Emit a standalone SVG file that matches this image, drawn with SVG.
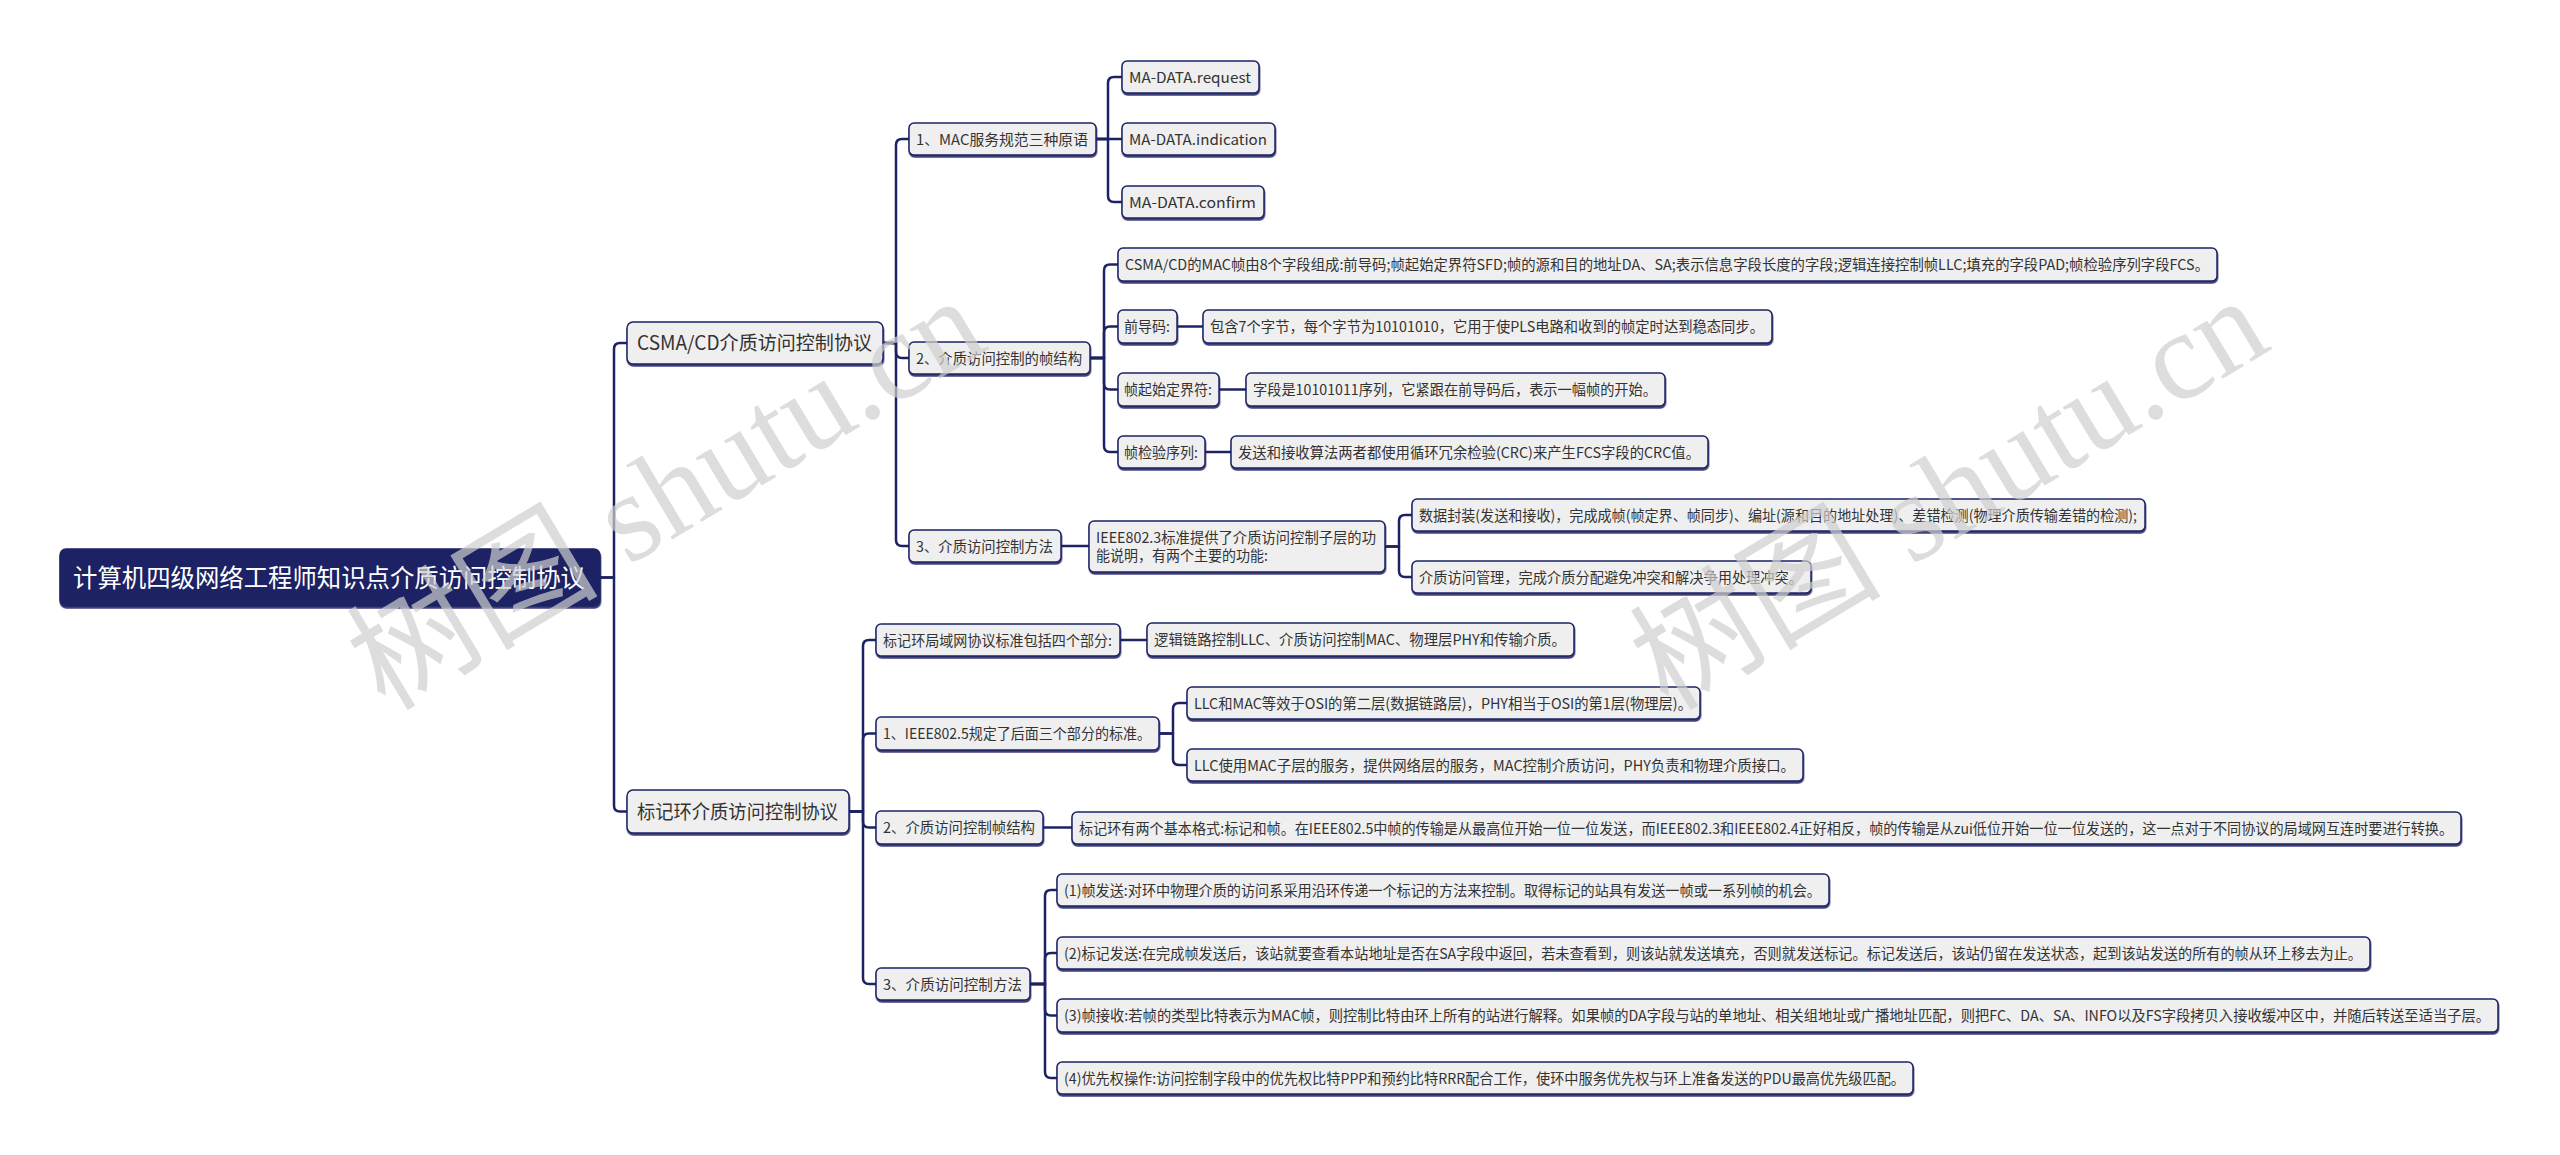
<svg xmlns="http://www.w3.org/2000/svg" width="2560" height="1155" viewBox="0 0 2560 1155">
<defs>
<filter id="sh" x="-5%" y="-20%" width="110%" height="160%">
<feDropShadow dx="0.5" dy="2" stdDeviation="0.6" flood-color="#1c2363" flood-opacity="0.85"/>
</filter>
</defs>
<style>
.n rect{fill:#efeff0;stroke:#1c2363;stroke-width:1.5;filter:url(#sh)}
.n text{font-family:"Noto Sans CJK SC","Noto Sans",sans-serif;font-size:14.5px;fill:#333333}
.l1 text{font-size:19.5px}
.root rect{fill:#1c2363;stroke:#1c2363}
.root text{font-size:25px;fill:#ffffff}
#connectors path{fill:none;stroke:#1c2363;stroke-width:2.5;stroke-linejoin:round}
.wm{font-family:"Liberation Serif","Noto Sans CJK SC",serif;font-size:126px;fill:#cfcfcf;opacity:0.7}
</style>
<rect width="2560" height="1155" fill="#ffffff"/>
<g id="connectors">
<path d="M600,577.5 H614 V349 Q614,343 620,343 H627"/>
<path d="M600,577.5 H614 V805.5 Q614,811.5 620,811.5 H627"/>
<path d="M883,343 H896 V145 Q896,139 902,139 H909"/>
<path d="M883,343 H896 V352 Q896,358 902,358 H909"/>
<path d="M883,343 H896 V540 Q896,546 902,546 H909"/>
<path d="M1096,139 H1108 V83 Q1108,77 1114,77 H1122"/>
<path d="M1096,139 H1122"/>
<path d="M1096,139 H1108 V196 Q1108,202 1114,202 H1122"/>
<path d="M1090,358 H1104 V270.5 Q1104,264.5 1110,264.5 H1118"/>
<path d="M1090,358 H1104 V332.5 Q1104,326.5 1110,326.5 H1118"/>
<path d="M1090,358 H1104 V383.5 Q1104,389.5 1110,389.5 H1118"/>
<path d="M1090,358 H1104 V446 Q1104,452 1110,452 H1118"/>
<path d="M1177,326.5 H1203"/>
<path d="M1219,389.5 H1246"/>
<path d="M1205,452 H1231"/>
<path d="M1061,546 H1089"/>
<path d="M1385,546.5 H1399 V521 Q1399,515 1405,515 H1412"/>
<path d="M1385,546.5 H1399 V571 Q1399,577 1405,577 H1412"/>
<path d="M849,811.5 H863 V646 Q863,640 869,640 H876"/>
<path d="M849,811.5 H863 V739.5 Q863,733.5 869,733.5 H876"/>
<path d="M849,811.5 H863 V821.5 Q863,827.5 869,827.5 H876"/>
<path d="M849,811.5 H863 V978 Q863,984 869,984 H876"/>
<path d="M1120,640 H1147"/>
<path d="M1159,733.5 H1173 V709 Q1173,703 1179,703 H1187"/>
<path d="M1159,733.5 H1173 V759 Q1173,765 1179,765 H1187"/>
<path d="M1043,827.5 H1072"/>
<path d="M1030,984 H1045 V896 Q1045,890 1051,890 H1057"/>
<path d="M1030,984 H1045 V959 Q1045,953 1051,953 H1057"/>
<path d="M1030,984 H1045 V1009.5 Q1045,1015.5 1051,1015.5 H1057"/>
<path d="M1030,984 H1045 V1072 Q1045,1078 1051,1078 H1057"/>
</g>
<g id="root" class="n root"><rect x="60" y="549" width="540" height="57" rx="6"/><text x="73" y="586.5" textLength="512" lengthAdjust="spacingAndGlyphs">计算机四级网络工程师知识点介质访问控制协议</text></g>
<g id="csma" class="n l1"><rect x="627" y="322" width="256" height="42" rx="6"/><text x="637" y="350" textLength="235" lengthAdjust="spacingAndGlyphs">CSMA/CD介质访问控制协议</text></g>
<g id="token" class="n l1"><rect x="627" y="790" width="222" height="43" rx="6"/><text x="637" y="818.5" textLength="201" lengthAdjust="spacingAndGlyphs">标记环介质访问控制协议</text></g>
<g id="a1" class="n"><rect x="909" y="123" width="187" height="32" rx="5"/><text x="916" y="144.5" textLength="172" lengthAdjust="spacingAndGlyphs">1、MAC服务规范三种原语</text></g>
<g id="a1-1" class="n"><rect x="1122" y="61" width="137" height="32" rx="5"/><text x="1129" y="82.5" textLength="122" lengthAdjust="spacingAndGlyphs">MA-DATA.request</text></g>
<g id="a1-2" class="n"><rect x="1122" y="123" width="153" height="32" rx="5"/><text x="1129" y="144.5" textLength="138" lengthAdjust="spacingAndGlyphs">MA-DATA.indication</text></g>
<g id="a1-3" class="n"><rect x="1122" y="186" width="142" height="32" rx="5"/><text x="1129" y="207.5" textLength="127" lengthAdjust="spacingAndGlyphs">MA-DATA.confirm</text></g>
<g id="a2" class="n"><rect x="909" y="342" width="181" height="32" rx="5"/><text x="916" y="363.5" textLength="166" lengthAdjust="spacingAndGlyphs">2、介质访问控制的帧结构</text></g>
<g id="b1" class="n"><rect x="1118" y="248" width="1099" height="33" rx="5"/><text x="1125" y="270" textLength="1084" lengthAdjust="spacingAndGlyphs">CSMA/CD的MAC帧由8个字段组成:前导码;帧起始定界符SFD;帧的源和目的地址DA、SA;表示信息字段长度的字段;逻辑连接控制帧LLC;填充的字段PAD;帧检验序列字段FCS。</text></g>
<g id="b2" class="n"><rect x="1118" y="310" width="59" height="33" rx="5"/><text x="1124" y="332" textLength="46" lengthAdjust="spacingAndGlyphs">前导码:</text></g>
<g id="b2-1" class="n"><rect x="1203" y="310" width="569" height="33" rx="5"/><text x="1210" y="332" textLength="554" lengthAdjust="spacingAndGlyphs">包含7个字节，每个字节为10101010，它用于使PLS电路和收到的帧定时达到稳态同步。</text></g>
<g id="b3" class="n"><rect x="1118" y="373" width="101" height="33" rx="5"/><text x="1124" y="395" textLength="88" lengthAdjust="spacingAndGlyphs">帧起始定界符:</text></g>
<g id="b3-1" class="n"><rect x="1246" y="373" width="419" height="33" rx="5"/><text x="1253" y="395" textLength="404" lengthAdjust="spacingAndGlyphs">字段是10101011序列，它紧跟在前导码后，表示一幅帧的开始。</text></g>
<g id="b4" class="n"><rect x="1118" y="436" width="87" height="32" rx="5"/><text x="1124" y="457.5" textLength="74" lengthAdjust="spacingAndGlyphs">帧检验序列:</text></g>
<g id="b4-1" class="n"><rect x="1231" y="436" width="477" height="32" rx="5"/><text x="1238" y="457.5" textLength="462" lengthAdjust="spacingAndGlyphs">发送和接收算法两者都使用循环冗余检验(CRC)来产生FCS字段的CRC值。</text></g>
<g id="a3" class="n"><rect x="909" y="530" width="152" height="32" rx="5"/><text x="916" y="551.5" textLength="137" lengthAdjust="spacingAndGlyphs">3、介质访问控制方法</text></g>
<g id="ieee" class="n"><rect x="1089" y="521" width="296" height="51" rx="5"/><text x="1096" y="543" textLength="280" lengthAdjust="spacingAndGlyphs">IEEE802.3标准提供了介质访问控制子层的功</text><text x="1096" y="561" textLength="172" lengthAdjust="spacingAndGlyphs">能说明，有两个主要的功能:</text></g>
<g id="ieee-1" class="n"><rect x="1412" y="499" width="733" height="32" rx="5"/><text x="1419" y="520.5" textLength="718" lengthAdjust="spacingAndGlyphs">数据封装(发送和接收)，完成成帧(帧定界、帧同步)、编址(源和目的地址处理)、差错检测(物理介质传输差错的检测);</text></g>
<g id="ieee-2" class="n"><rect x="1412" y="561" width="399" height="32" rx="5"/><text x="1419" y="582.5" textLength="384" lengthAdjust="spacingAndGlyphs">介质访问管理，完成介质分配避免冲突和解决争用处理冲突。</text></g>
<g id="c0" class="n"><rect x="876" y="624" width="244" height="32" rx="5"/><text x="883" y="645.5" textLength="229" lengthAdjust="spacingAndGlyphs">标记环局域网协议标准包括四个部分:</text></g>
<g id="c0-1" class="n"><rect x="1147" y="623" width="427" height="33" rx="5"/><text x="1154" y="645" textLength="412" lengthAdjust="spacingAndGlyphs">逻辑链路控制LLC、介质访问控制MAC、物理层PHY和传输介质。</text></g>
<g id="c1" class="n"><rect x="876" y="717" width="283" height="33" rx="5"/><text x="883" y="739" textLength="268" lengthAdjust="spacingAndGlyphs">1、IEEE802.5规定了后面三个部分的标准。</text></g>
<g id="c1-1" class="n"><rect x="1187" y="687" width="513" height="32" rx="5"/><text x="1194" y="708.5" textLength="498" lengthAdjust="spacingAndGlyphs">LLC和MAC等效于OSI的第二层(数据链路层)，PHY相当于OSI的第1层(物理层)。</text></g>
<g id="c1-2" class="n"><rect x="1187" y="749" width="616" height="32" rx="5"/><text x="1194" y="770.5" textLength="601" lengthAdjust="spacingAndGlyphs">LLC使用MAC子层的服务，提供网络层的服务，MAC控制介质访问，PHY负责和物理介质接口。</text></g>
<g id="c2" class="n"><rect x="876" y="811" width="167" height="33" rx="5"/><text x="883" y="833" textLength="152" lengthAdjust="spacingAndGlyphs">2、介质访问控制帧结构</text></g>
<g id="c2-1" class="n"><rect x="1072" y="812" width="1389" height="32" rx="5"/><text x="1079" y="833.5" textLength="1374" lengthAdjust="spacingAndGlyphs">标记环有两个基本格式:标记和帧。在IEEE802.5中帧的传输是从最高位开始一位一位发送，而IEEE802.3和IEEE802.4正好相反，帧的传输是从zui低位开始一位一位发送的，这一点对于不同协议的局域网互连时要进行转换。</text></g>
<g id="c3" class="n"><rect x="876" y="968" width="154" height="32" rx="5"/><text x="883" y="989.5" textLength="139" lengthAdjust="spacingAndGlyphs">3、介质访问控制方法</text></g>
<g id="c3-1" class="n"><rect x="1057" y="874" width="772" height="32" rx="5"/><text x="1064" y="895.5" textLength="757" lengthAdjust="spacingAndGlyphs">(1)帧发送:对环中物理介质的访问系采用沿环传递一个标记的方法来控制。取得标记的站具有发送一帧或一系列帧的机会。</text></g>
<g id="c3-2" class="n"><rect x="1057" y="937" width="1313" height="32" rx="5"/><text x="1064" y="958.5" textLength="1298" lengthAdjust="spacingAndGlyphs">(2)标记发送:在完成帧发送后，该站就要查看本站地址是否在SA字段中返回，若未查看到，则该站就发送填充，否则就发送标记。标记发送后，该站仍留在发送状态，起到该站发送的所有的帧从环上移去为止。</text></g>
<g id="c3-3" class="n"><rect x="1057" y="999" width="1441" height="33" rx="5"/><text x="1064" y="1021" textLength="1426" lengthAdjust="spacingAndGlyphs">(3)帧接收:若帧的类型比特表示为MAC帧，则控制比特由环上所有的站进行解释。如果帧的DA字段与站的单地址、相关组地址或广播地址匹配，则把FC、DA、SA、INFO以及FS字段拷贝入接收缓冲区中，并随后转送至适当子层。</text></g>
<g id="c3-4" class="n"><rect x="1057" y="1062" width="856" height="32" rx="5"/><text x="1064" y="1083.5" textLength="841" lengthAdjust="spacingAndGlyphs">(4)优先权操作:访问控制字段中的优先权比特PPP和预约比特RRR配合工作，使环中服务优先权与环上准备发送的PDU最高优先级匹配。</text></g>
<g id="watermarks">
<text class="wm" transform="translate(385,712) rotate(-31)">树图 shutu.cn</text>
<text class="wm" transform="translate(1668,712) rotate(-31)">树图 shutu.cn</text>
</g>
</svg>
